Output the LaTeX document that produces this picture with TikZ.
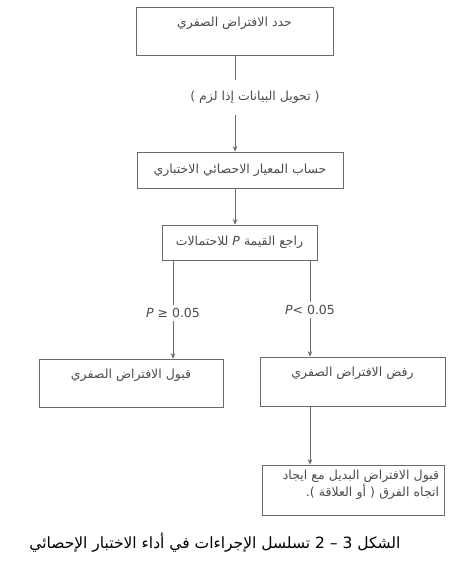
\documentclass[tikz,border=0pt]{standalone}
\usepackage{fontspec}
\usetikzlibrary{arrows.meta}
\TeXXeTstate=1
\newfontfamily\arabicfont[Script=Arabic]{DejaVu Sans}
\newfontfamily\symfont{DejaVu Sans}
\definecolor{ink}{gray}{0.30}
\definecolor{edge}{gray}{0.42}
\begin{document}
\begin{tikzpicture}[x=1pt,y=-1pt,
  box/.style={draw=edge,line width=0.7pt,inner sep=0pt},
  txt/.style={text=ink,font=\arabicfont\fontsize{12.5}{17}\selectfont,inner sep=1pt},
  plabel/.style={text=ink,font=\symfont\fontsize{12.5}{14}\selectfont,inner sep=3pt},
  conn/.style={draw=edge,line width=0.7pt},
  arr/.style={conn,-{Stealth[length=5.5pt,width=4.5pt]}}]
\fill[white] (0,0) rectangle (464,569);
\useasboundingbox (0,0) rectangle (464,569);

% boxes
\node[box,minimum width=197pt,minimum height=48pt] (b1) at (234.5,31) {};
\node[txt] (t1) at (234.5,23) {\beginR حدد الافتراض الصفري\endR};

\node[txt] (l0) at (255,97) {\beginR ( تحويل البيانات إذا لزم )\endR};
\coordinate (c0) at (235,80);
\coordinate (c1) at (235,115);

\node[box,minimum width=206pt,minimum height=36pt] (b2) at (240,170) {};
\node[txt] (t2) at (240,170) {\beginR حساب المعيار الاحصائي الاختباري\endR};

\node[box,minimum width=155pt,minimum height=35pt] (b3) at (239.5,242.5) {};
\node[txt] (t3) at (239.5,242.5) {\beginR راجع القيمة \textit{P} للاحتمالات\endR};

\node[plabel] (pge) at (173,313) {\textit{P} ≥ 0.05};
\node[plabel] (plt) at (310,310) {\textit{P}< 0.05};

\node[box,minimum width=184pt,minimum height=48pt] (lb) at (131,383) {};
\node[txt] (tl) at (131,375) {\beginR قبول الافتراض الصفري\endR};

\node[box,minimum width=185pt,minimum height=49pt] (rb) at (352.5,381.5) {};
\node[txt] (tr) at (352.5,373) {\beginR رفض الافتراض الصفري\endR};

\node[box,minimum width=182pt,minimum height=50pt] (bb) at (353,490) {};
\node[txt,align=right,text width=172pt] (tb) at (353,485) {\beginR قبول الافتراض البديل مع ايجاد\endR\\\beginR اتجاه الفرق ( أو العلاقة ).\endR};

\node[font=\arabicfont\fontsize{15.5}{18}\selectfont,inner sep=0pt] (cap) at (215,543) {\beginR الشكل 3 – 2 تسلسل الإجراءات في أداء الاختبار الإحصائي\endR};

% connectors
\draw[conn] (b1.south -| c0) -- (c0);
\draw[arr] (c1) -- (b2.north -| c1);
\draw[arr] (b2.south -| c1) -- (b3.north -| c1);
\draw[conn] (b3.south -| pge) -- (pge.north);
\draw[arr] (pge.south) -- (lb.north -| pge);
\draw[conn] (b3.south -| plt) -- (plt.north);
\draw[arr] (plt.south) -- (rb.north -| plt);
\draw[arr] (rb.south -| plt) -- (bb.north -| plt);
\end{tikzpicture}
\end{document}
